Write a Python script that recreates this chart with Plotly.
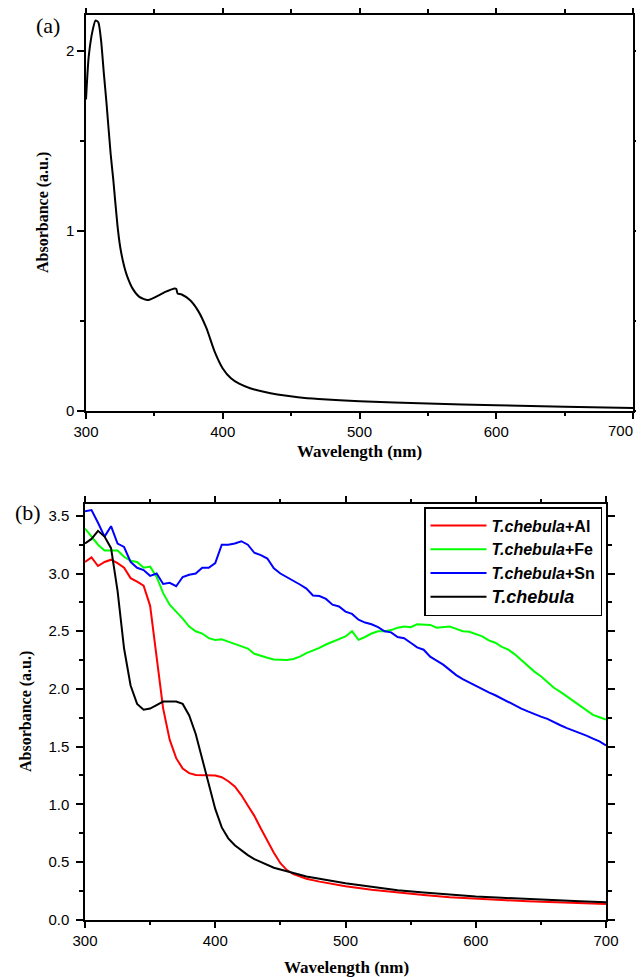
import plotly.graph_objects as go

# ---------------- Panel (a) data ----------------
wl_a = [300, 302, 305, 307, 309, 311, 313, 315, 318, 320, 323, 325, 328, 330, 334, 339, 345,
        351, 358, 365, 366, 367, 370, 376, 382, 388, 394, 400, 406, 412, 420, 430, 440, 455,
        470, 500, 550, 600, 650, 700]
abs_a = [1.73, 1.97, 2.12, 2.17, 2.16, 2.06, 1.88, 1.71, 1.43, 1.28, 1.03, 0.91, 0.80, 0.75,
         0.68, 0.633, 0.615, 0.633, 0.661, 0.68, 0.677, 0.652, 0.646, 0.615, 0.555, 0.46, 0.33,
         0.235, 0.18, 0.15, 0.125, 0.105, 0.09, 0.075, 0.065, 0.052, 0.04, 0.03, 0.022, 0.015]

# x tick labels of panel (a); the last one sits at the page edge
xticks_a = [300, 400, 500, 600, 700]
xtick_text_a = ["300", "400", "500", "600", ""]
edge_label_a = "700"

# ---------------- Panel (b) data ----------------
wl_5 = list(range(300, 705, 5))
blue_sn = [3.54, 3.55, 3.44, 3.32, 3.41, 3.26, 3.23, 3.10, 3.05, 3.03, 2.98, 3.00, 2.91, 2.92,
           2.89, 2.97, 2.99, 3.00, 3.05, 3.05, 3.09, 3.25, 3.25, 3.26, 3.28, 3.25, 3.18, 3.16,
           3.13, 3.045, 3.00, 2.97, 2.935, 2.905, 2.87, 2.81, 2.805, 2.78, 2.73, 2.715, 2.67,
           2.65, 2.60, 2.575, 2.56, 2.535, 2.50, 2.49, 2.45, 2.44, 2.40, 2.36, 2.34, 2.28, 2.245,
           2.21, 2.165, 2.12, 2.085, 2.055, 2.03, 2.00, 1.97, 1.945, 1.915, 1.885, 1.86, 1.83,
           1.805, 1.78, 1.76, 1.74, 1.71, 1.685, 1.66, 1.64, 1.62, 1.595, 1.57, 1.545, 1.51]
green_fe = [3.39, 3.32, 3.25, 3.20, 3.20, 3.20, 3.145, 3.11, 3.10, 3.05, 3.06, 2.97, 2.83, 2.73,
            2.67, 2.61, 2.54, 2.50, 2.48, 2.44, 2.425, 2.43, 2.41, 2.39, 2.375, 2.35, 2.305,
            2.285, 2.27, 2.255, 2.25, 2.25, 2.26, 2.28, 2.31, 2.33, 2.355, 2.385, 2.41, 2.43,
            2.455, 2.50, 2.425, 2.45, 2.48, 2.50, 2.50, 2.51, 2.53, 2.54, 2.535, 2.56, 2.56,
            2.555, 2.53, 2.535, 2.54, 2.52, 2.50, 2.495, 2.475, 2.455, 2.42, 2.40, 2.365, 2.34,
            2.30, 2.25, 2.20, 2.15, 2.11, 2.06, 2.01, 1.975, 1.935, 1.89, 1.85, 1.81, 1.775,
            1.755, 1.735]

wl_al = [300, 305, 310, 315, 320, 325, 330, 335, 340, 345, 350, 355, 360, 365, 370, 375, 380,
         385, 390, 395, 400, 405, 410, 415, 420, 425, 430, 435, 440, 445, 450, 455, 460, 470,
         480, 490, 500, 520, 540, 560, 580, 600, 620, 640, 660, 680, 700]
red_al = [3.10, 3.14, 3.065, 3.10, 3.12, 3.09, 3.05, 2.96, 2.93, 2.895, 2.72, 2.28, 1.83, 1.56,
          1.40, 1.31, 1.27, 1.255, 1.255, 1.255, 1.25, 1.235, 1.20, 1.155, 1.08, 0.99, 0.90,
          0.79, 0.68, 0.58, 0.49, 0.43, 0.395, 0.355, 0.33, 0.31, 0.29, 0.26, 0.235, 0.215,
          0.195, 0.18, 0.17, 0.16, 0.152, 0.145, 0.136]

wl_tc = [300, 305, 310, 315, 320, 325, 330, 335, 340, 345, 350, 355, 360, 365, 370, 375, 380,
         385, 390, 395, 400, 405, 410, 415, 420, 425, 430, 435, 440, 445, 450, 455, 460, 470,
         480, 490, 500, 520, 540, 560, 580, 600, 620, 640, 660, 680, 700]
black_tc = [3.26, 3.30, 3.37, 3.32, 3.22, 2.85, 2.35, 2.03, 1.87, 1.82, 1.83, 1.86, 1.89, 1.89,
            1.89, 1.87, 1.77, 1.61, 1.40, 1.17, 0.96, 0.80, 0.705, 0.645, 0.60, 0.56, 0.525,
            0.50, 0.475, 0.45, 0.435, 0.42, 0.40, 0.375, 0.355, 0.335, 0.315, 0.285, 0.255,
            0.235, 0.215, 0.20, 0.19, 0.178, 0.168, 0.16, 0.151]

series_names = ["<b><i>T.chebula</i>+Al</b>", "<b><i>T.chebula</i>+Fe</b>",
                "<b><i>T.chebula</i>+Sn</b>", "<span style='font-size:18px'><b><i>T.chebula</i></b></span>"]
series_colors = ["#FF0000", "#00FF00", "#0000FF", "#000000"]

# page body has an 8px margin: the figure spans page px 8..644 / 8..977
OFF = 8
W, H = 636, 969

fig = go.Figure()
fig.add_trace(go.Scatter(x=wl_a, y=abs_a, mode="lines", line=dict(color="black", width=2, shape="spline", smoothing=0.6),
                         xaxis="x", yaxis="y", showlegend=False))

fig.add_trace(go.Scatter(x=wl_al, y=red_al, mode="lines", name=series_names[0],
                         line=dict(color=series_colors[0], width=2), xaxis="x2", yaxis="y2"))
fig.add_trace(go.Scatter(x=wl_5, y=green_fe, mode="lines", name=series_names[1],
                         line=dict(color=series_colors[1], width=2), xaxis="x2", yaxis="y2"))
fig.add_trace(go.Scatter(x=wl_5, y=blue_sn, mode="lines", name=series_names[2],
                         line=dict(color=series_colors[2], width=2), xaxis="x2", yaxis="y2"))
fig.add_trace(go.Scatter(x=wl_tc, y=black_tc, mode="lines", name=series_names[3],
                         line=dict(color=series_colors[3], width=2), xaxis="x2", yaxis="y2"))

tickfont = dict(family="Liberation Sans, Arial", size=15, color="black")
common = dict(showline=True, linecolor="black", linewidth=1.5, mirror="ticks", ticks="outside",
              ticklen=7, tickwidth=1.5, tickcolor="black", showgrid=False, zeroline=False,
              tickfont=tickfont, automargin=False, ticklabeloverflow="allow")

def px_x(p):
    return (p - OFF) / W

def px_y(p):
    return 1 - (p - OFF) / H

def label(text, x, y, size, angle=0):
    return dict(text=text, x=px_x(x), y=px_y(y), xref="paper", yref="paper", showarrow=False,
                xanchor="center", yanchor="middle", textangle=angle,
                font=dict(family="Liberation Serif, Times New Roman", size=size, color="black"))

fig.update_layout(
    width=W, height=H, margin=dict(l=0, r=0, t=0, b=0, autoexpand=False),
    paper_bgcolor="white", plot_bgcolor="white",
    xaxis=dict(domain=[px_x(86), px_x(633)], range=[300, 700], anchor="y",
               tickmode="array", tickvals=xticks_a, ticktext=xtick_text_a,
               minor=dict(ticks="outside", ticklen=4, dtick=50, tickcolor="black", tickwidth=1.5), **common),
    yaxis=dict(domain=[px_y(410.7), px_y(15)], range=[0, 2.2], anchor="x", dtick=1,
               minor=dict(ticks="outside", ticklen=4, dtick=0.5, tickcolor="black", tickwidth=1.5), **common),
    xaxis2=dict(domain=[px_x(85), px_x(606)], range=[300, 700], anchor="y2", dtick=100,
                minor=dict(ticks="outside", ticklen=4, dtick=50, tickcolor="black", tickwidth=1.5), **common),
    yaxis2=dict(domain=[px_y(919.7), px_y(504.3)], range=[0, 3.6], anchor="x2", dtick=0.5,
                tickformat=".1f", ticklabelstandoff=4,
                minor=dict(ticks="outside", ticklen=4, dtick=0.25, tickcolor="black", tickwidth=1.5), **common),
    legend=dict(x=px_x(602), y=px_y(507), xanchor="right", yanchor="top",
                bordercolor="black", borderwidth=1.5, bgcolor="white",
                font=dict(family="Liberation Sans, Arial", size=16, color="black"),
                itemwidth=56),
    annotations=[
        label("(a)", 48, 25, 22),
        label("(b)", 28, 513, 22),
        label("<b>Absorbance (a.u.)</b>", 43, 213, 16, angle=-90),
        label("<b>Absorbance (a.u.)</b>", 26, 712, 16, angle=-90),
        label("<b>Wavelength (nm)</b>", 359, 451, 17),
        label("<b>Wavelength (nm)</b>", 346, 967, 17),
        dict(text=edge_label_a, x=px_x(635), y=px_y(430), xref="paper", yref="paper", showarrow=False,
             xanchor="right", yanchor="middle", font=tickfont),
    ],
)

fig.write_html("out.html", post_script="document.body.style.overflow='hidden';")
